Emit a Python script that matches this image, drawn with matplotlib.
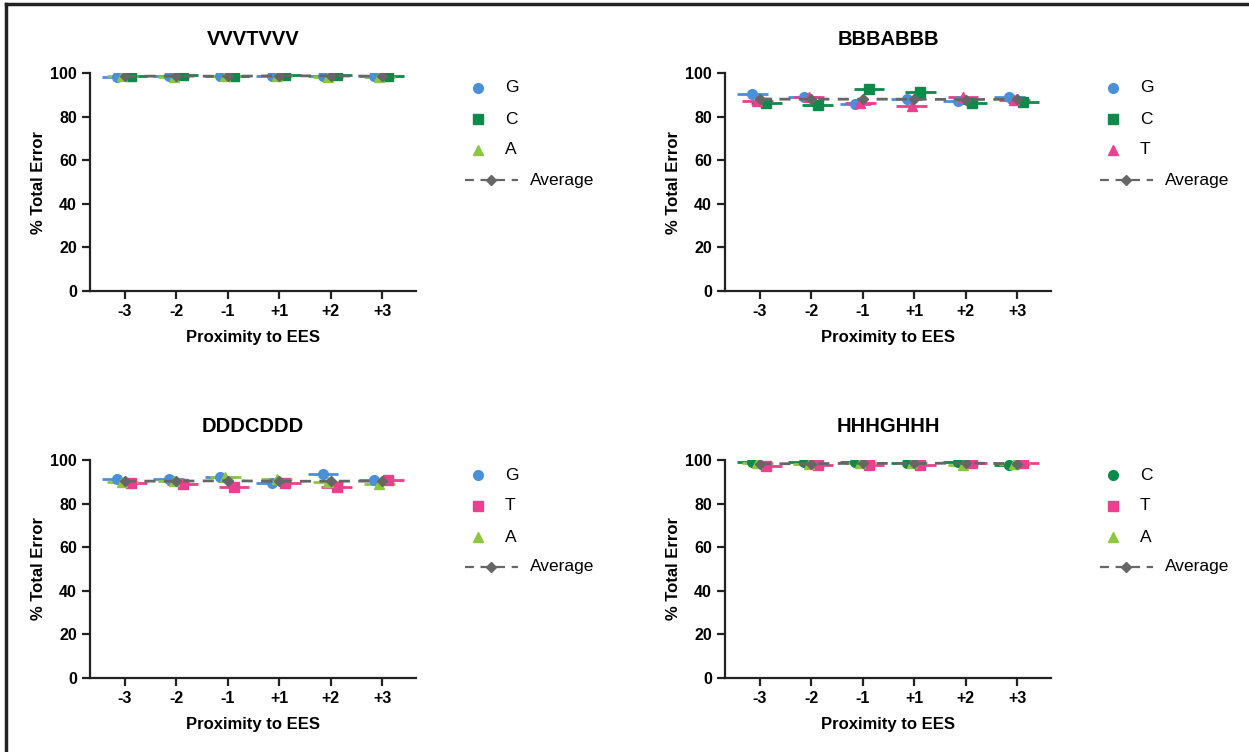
import matplotlib
matplotlib.use("Agg")
import matplotlib.pyplot as plt
from matplotlib.lines import Line2D

plt.rcParams['font.family'] = ['Liberation Sans', 'DejaVu Sans']

# colours per base, marker per series slot
C = {'G': '#4a90d9', 'C': '#0b8a4a', 'A': '#8dc63f', 'T': '#ec3f8e', 'avg': '#666666'}
MARKERS = ['o', 's', '^']

positions = ['-3', '-2', '-1', '+1', '+2', '+3']

# VVVTVVV
v_title = 'VVVTVVV'
v_bases = ['G', 'C', 'A']
v_G = [98.2, 98.7, 98.6, 98.4, 98.6, 98.7]
v_C = [98.6, 98.9, 98.5, 99.2, 99.1, 98.6]
v_A = [98.7, 98.3, 98.4, 98.5, 98.3, 98.3]
v_avg = [98.5, 98.6, 98.5, 98.7, 98.7, 98.5]

# BBBABBB
b_title = 'BBBABBB'
b_bases = ['G', 'C', 'T']
b_G = [90.2, 89.0, 85.8, 88.0, 87.2, 89.0]
b_C = [86.2, 85.3, 92.6, 91.3, 86.4, 86.9]
b_T = [87.2, 89.2, 86.2, 85.0, 89.0, 87.6]
b_avg = [88.0, 88.0, 88.0, 88.0, 87.8, 88.0]

# DDDCDDD
d_title = 'DDDCDDD'
d_bases = ['G', 'T', 'A']
d_G = [91.5, 91.5, 92.2, 89.6, 93.4, 91.0]
d_T = [89.3, 89.0, 87.4, 89.5, 87.6, 90.8]
d_A = [90.0, 90.3, 92.0, 91.5, 89.8, 88.8]
d_avg = [90.3, 90.3, 90.5, 90.2, 90.3, 90.3]

# HHHGHHH
h_title = 'HHHGHHH'
h_bases = ['C', 'T', 'A']
h_C = [99.0, 99.2, 99.2, 98.8, 99.2, 97.8]
h_T = [97.4, 97.8, 97.8, 97.8, 98.8, 98.8]
h_A = [98.6, 98.0, 98.5, 98.5, 97.8, 98.3]
h_avg = [98.3, 98.3, 98.5, 98.4, 98.6, 98.3]

panels = [
    (v_title, v_bases, [v_G, v_C, v_A], v_avg),
    (b_title, b_bases, [b_G, b_C, b_T], b_avg),
    (d_title, d_bases, [d_G, d_T, d_A], d_avg),
    (h_title, h_bases, [h_C, h_T, h_A], h_avg),
]

W, H = 1249, 752
fig = plt.figure(figsize=(W / 100, H / 100), dpi=100)

# axes boxes in pixels: left, top
boxes = [(90, 73), (725, 73), (90, 460), (725, 460)]
aw, ah = 326, 218
offsets = [-0.15, 0.12, -0.05]


def fx(px):
    return px / W


def fy(py):
    return 1 - py / H


for (title, bases, series, avg), (lx, ty) in zip(panels, boxes):
    ax = fig.add_axes([fx(lx), fy(ty + ah), aw / W, ah / H])
    x = list(range(len(positions)))
    for base, vals, off, mk in zip(bases, series, offsets, MARKERS):
        xs = [i + off for i in x]
        ax.hlines(vals, [p - 0.3 for p in xs], [p + 0.3 for p in xs],
                  color=C[base], lw=2, zorder=2)
        ax.plot(xs, vals, ls='none', marker=mk, ms=7, color=C[base], zorder=3)
    ax.plot(x, avg, ls=(0, (4, 3)), lw=2, color=C['avg'], marker='D', ms=5, zorder=4)

    ax.set_xlim(-0.68, 5.66)
    ax.set_ylim(0, 100)
    ax.set_yticks([0, 20, 40, 60, 80, 100])
    ax.set_xticks(x)
    ax.set_xticklabels(positions)
    for s in ['top', 'right']:
        ax.spines[s].set_visible(False)
    for s in ['left', 'bottom']:
        ax.spines[s].set_linewidth(1.6)
        ax.spines[s].set_color('#222222')
    ax.tick_params(width=1.6, length=6, color='#222222', labelsize=11.5)
    for lab in ax.get_xticklabels() + ax.get_yticklabels():
        lab.set_fontweight('bold')
    ax.set_title(title, fontsize=14.5, fontweight='bold', pad=20)
    ax.set_xlabel('Proximity to EES', fontsize=12, fontweight='bold', labelpad=8)
    ax.set_ylabel('% Total Error', fontsize=12, fontweight='bold', labelpad=3)

    # legend drawn by hand: symbol at left, dashed line for the average
    mx = lx + aw + 62
    rows = [ty + 15, ty + 46, ty + 77, ty + 107]
    for base, mk, ry in zip(bases, MARKERS, rows):
        fig.add_artist(Line2D([fx(mx)], [fy(ry)], ls='none', marker=mk, ms=7, color=C[base]))
        fig.text(fx(mx + 27), fy(ry), base, fontsize=12.5, va='center', ha='left')
    ry = rows[-1]
    fig.add_artist(Line2D([fx(mx - 13), fx(mx + 40)], [fy(ry), fy(ry)],
                          ls=(0, (4, 3)), lw=1.6, color=C['avg']))
    fig.add_artist(Line2D([fx(mx + 13)], [fy(ry)], ls='none', marker='D', ms=5, color=C['avg']))
    fig.text(fx(mx + 52), fy(ry), 'Average', fontsize=12.5, va='center', ha='left')

# outer frame (left and top edges)
fig.add_artist(Line2D([fx(6), fx(6)], [0, fy(4)], color='#222222', lw=2.5))
fig.add_artist(Line2D([fx(6), 1], [fy(4), fy(4)], color='#222222', lw=2.5))

fig.savefig('out.png', dpi=100)
